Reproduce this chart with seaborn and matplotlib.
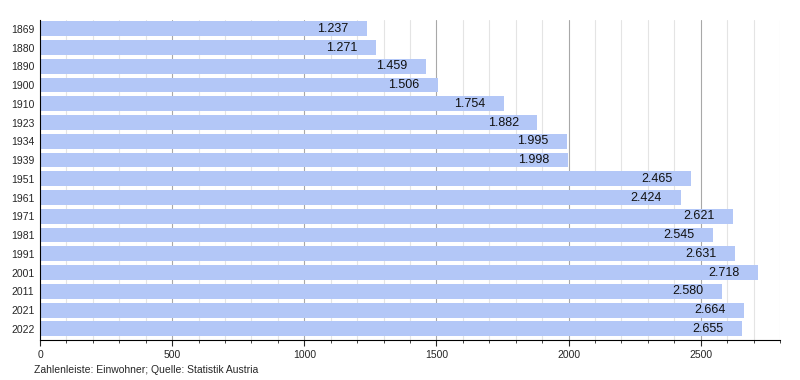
import matplotlib
matplotlib.use("Agg")
import matplotlib.pyplot as plt
from matplotlib.ticker import MultipleLocator
import seaborn as sns
import pandas as pd

# population by census year
years = ['1869', '1880', '1890', '1900', '1910', '1923', '1934', '1939', '1951',
         '1961', '1971', '1981', '1991', '2001', '2011', '2021', '2022']
population = [1237, 1271, 1459, 1506, 1754, 1882, 1995, 1998, 2465,
              2424, 2621, 2545, 2631, 2718, 2580, 2664, 2655]

df = pd.DataFrame({'Jahr': years, 'Einwohner': population})

sns.set_style('white')
plt.rcParams['font.family'] = ['Liberation Sans', 'DejaVu Sans']

fig = plt.figure(figsize=(8, 3.8), dpi=100)
ax = fig.add_axes([0.05, 0.105, 0.925, 0.842])

# grid: light every 100, darker every 500
for x in range(100, 2801, 100):
    ax.axvline(x, color='#a8a8a8' if x % 500 == 0 else '#e4e4e4', lw=0.8, zorder=0)

sns.barplot(data=df, x='Einwohner', y='Jahr', orient='h', color='#b3c7f7',
            saturation=1, width=0.79, edgecolor='none', linewidth=0,
            ax=ax, zorder=2)

# value labels in German notation, right-aligned inside the bar end
for i, v in enumerate(population):
    ax.text(v - 70, i, f'{v:,}'.replace(',', '.'), ha='right', va='center',
            fontsize=9, color='#111111', zorder=3)

ax.set_xlim(0, 2800)
ax.set_ylim(16.6, -0.46)
ax.xaxis.set_major_locator(MultipleLocator(500))
ax.xaxis.set_minor_locator(MultipleLocator(100))
ax.set_xlabel('')
ax.set_ylabel('')
for side in ['top', 'right']:
    ax.spines[side].set_visible(False)
ax.spines['left'].set_color('black')
ax.spines['bottom'].set_color('black')
ax.spines['left'].set_linewidth(0.8)
ax.spines['bottom'].set_linewidth(0.8)
ax.tick_params(axis='x', which='major', direction='out', length=4, width=0.8,
               labelsize=7.5, bottom=True, pad=3)
ax.tick_params(axis='x', which='minor', direction='out', length=2, width=0.6, bottom=True)
ax.tick_params(axis='y', length=0, labelsize=7.5, pad=4)

fig.text(0.043, 0.018, 'Zahlenleiste: Einwohner; Quelle: Statistik Austria', fontsize=7.5)

fig.savefig('out.png', dpi=100)
